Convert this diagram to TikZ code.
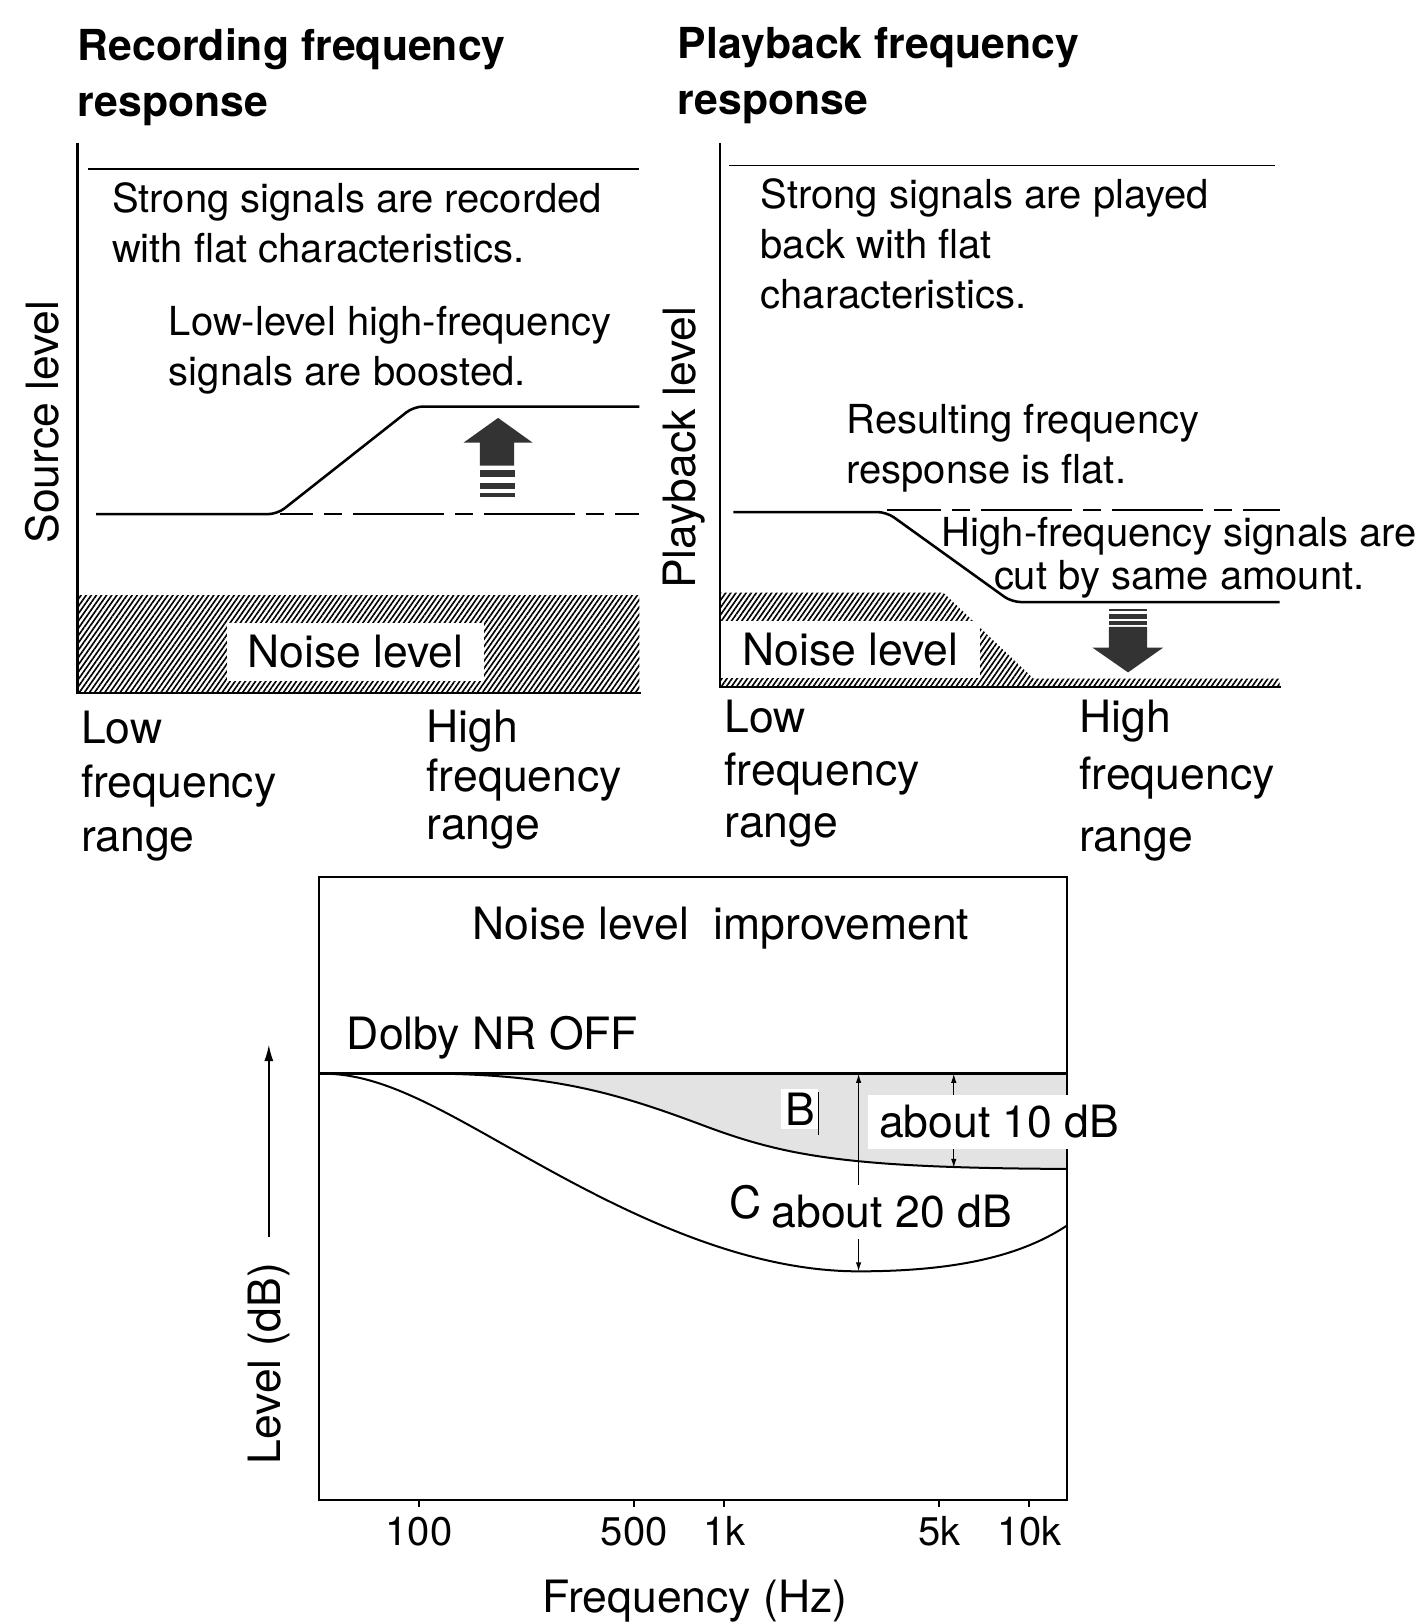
\documentclass[tikz,border=0pt]{standalone}
\usepackage{fontspec}
\setmainfont{TeX Gyre Heros}
\usepackage{tikz}
\usetikzlibrary{arrows.meta}
\usetikzlibrary{patterns.meta}

\begin{document}
\begin{tikzpicture}[
      x=0.02cm, y=-0.02cm,
      heading/.style ={font=\fontsize{23.5}{31}\bfseries\selectfont, align=left, anchor=base west, inner sep=0pt},
      note/.style    ={font=\fontsize{22}{27.5}\selectfont, align=left, anchor=base west, inner sep=0pt},
      rangelabel/.style={font=\fontsize{24.5}{29.8}\selectfont, align=left, anchor=base west, inner sep=0pt},
      axlabel/.style ={font=\fontsize{24.5}{28}\selectfont, rotate=90, anchor=base, inner sep=0pt},
      plottext/.style={font=\fontsize{24.5}{28}\selectfont, inner sep=0pt},
      axisline/.style={line width=1.2pt},
      respline/.style={line width=1.4pt, rounded corners=5pt},
      refline/.style ={line width=1pt, dash pattern=on 50pt off 6pt on 10pt off 6pt},
      hatch/.style   ={pattern={Lines[angle=55, distance=2.3pt, line width=0.9pt]}},
      noisebox/.style={fill=white, inner sep=0pt, font=\fontsize{24.5}{28}\selectfont},
      bigarrow/.style={fill=black!80},
      dimline/.style ={line width=0.6pt, >={Latex[length=5pt,width=3pt]}, <->}
    ]
    \useasboundingbox (0,0) rectangle (1371,1568);

    % recording
    \node [heading] (rectitle) at (75,113) {Recording frequency\\response};
    \fill [hatch] (75,576) rectangle (618,670);
    \node [noisebox, minimum width=4.98cm, minimum height=1.12cm] (recnoise) at (343.5,630) {Noise level};
    \draw [axisline] (75,138) -- (75,670) -- (620,670);
    \draw [line width=1pt] (85,163) -- (618,163);
    \node [note] (recstrong) at (108,254) {Strong signals are recorded\\with flat characteristics.};
    \node [note] (recboost) at (163,373) {Low-level high-frequency\\signals are boosted.};
    \draw [refline, dash phase=32pt] (271,497) -- (618,497);
    \draw [respline] (93,497) -- (268,497) -- (400,393) -- (618,393);
    \fill [bigarrow] (481.5,404) -- (515,428) -- (497,428) -- (497,450) -- (464,450) -- (464,428) -- (448,428) -- cycle;
    \foreach \ya/\yb in {454.5/461, 467/473, 477/480.5}
      \fill [bigarrow] (464,\ya) rectangle (498,\yb);
    \node [axlabel] (srclevel) at (57,408) {Source level};
    \node [rangelabel] (reclow) at (78,823) {Low\\frequency\\range};
    \node [rangelabel] (rechigh) at (412,812) {High\\[-3pt]frequency\\[-3pt]range};

    % playback
    \node [heading] (pbtitle) at (655,111) {Playback frequency\\response};
    \fill [hatch] (696,573) -- (912,573) -- (999,656) -- (1237,656) -- (1237,664) -- (696,664) -- cycle;
    \node [noisebox, minimum width=5cm, minimum height=1.1cm] (pbnoise) at (822,628) {Noise level};
    \draw [axisline] (696,138) -- (696,664) -- (1238,664);
    \draw [line width=1pt] (705,160) -- (1233,160);
    \node [note] (pbstrong) at (735,298) {Strong signals are played\\back with flat\\characteristics.};
    \node [note] (pbflat) at (818,467) {Resulting frequency\\response is flat.};
    \node [note, align=center, anchor=base] (pbcut) at (1140,570) {High-frequency signals are\\[-4pt]cut by same amount.};
    \draw [refline, dash phase=20pt] (857,493) -- (1237,493);
    \draw [respline] (709,495) -- (857,495) -- (978,582) -- (1237,582);
    \foreach \ya/\yb in {589/591, 594/598, 600.5/604}
      \fill [bigarrow] (1072,\ya) rectangle (1109,\yb);
    \fill [bigarrow] (1090.5,650) -- (1124.5,626) -- (1109,626) -- (1109,606) -- (1072,606) -- (1072,626) -- (1056,626) -- cycle;
    \node [axlabel] (pblevel) at (672,433) {Playback level};
    \node [rangelabel] (pblow) at (700,810) {Low\\[-0.8pt]frequency\\[-0.8pt]range};
    \node [rangelabel] (pbhigh) at (1043,823) {High\\[1.5pt]frequency\\[4.3pt]range};

    % improvement graph
    \fill [black!11] (430,1038) .. controls (540,1040) and (600,1058) .. (680,1088)
          .. controls (760,1118) and (820,1129) .. (1031,1130) -- (1031,1038) -- cycle;
    \draw [line width=1.1pt] (308,1038) -- (430,1038) .. controls (540,1040) and (600,1058) .. (680,1088)
          .. controls (760,1118) and (820,1129) .. (1031,1130);
    \draw [line width=1.1pt] (308,1038) .. controls (370,1036) and (430,1075) .. (520,1125)
          .. controls (610,1175) and (720,1229) .. (830,1229)
          .. controls (930,1229) and (990,1212) .. (1031,1185);
    \draw [line width=1.5pt] (308,1038) -- (1031,1038);
    \coordinate (ctop) at (830,1038);
    \coordinate (cbot) at (830,1229);
    \coordinate (btop) at (922,1038);
    \coordinate (bbot) at (922,1129);
    \draw [dimline] (ctop) -- (cbot);
    \draw [dimline] (btop) -- (bbot);
    \draw [line width=1.1pt] (308,848) rectangle (1031,1450);
    \foreach \x/\lab in {405/100, 613/500, 700/1k, 908/5k, 995/10k} {
      \draw [line width=1pt] (\x,1450) -- (\x,1457);
      \node [plottext, font=\fontsize{22}{26}\selectfont, anchor=base] (f\lab) at (\x,1494) {\lab};
    }
    \node [plottext, anchor=base] (imptitle) at (697,908) {Noise level\ \ improvement};
    \node [plottext, anchor=base west] (nroff) at (335,1015) {Dolby NR OFF};
    \node [plottext, anchor=base west, fill=white, inner sep=2pt] (lblb) at (755,1088) {B};
    \draw [line width=0.8pt] (791,1056) -- (791,1097);
    \node [plottext, anchor=base west] (lblc) at (705,1178) {C};
    \node [plottext, anchor=base, fill=white, inner sep=6pt] (tendb) at (966,1100) {about 10 dB};
    \node [plottext, anchor=base, fill=white, inner sep=6pt] (twentydb) at (862,1187) {about 20 dB};
    \node [plottext, anchor=base] (freq) at (672,1559) {Frequency (Hz)};
    \node [axlabel] (lvl) at (271,1318) {Level (dB)};
    \coordinate (lvltip) at (256,1010);
    \draw [line width=0.8pt, shorten <=14pt, -{Latex[length=9pt,width=5pt]}] (lvl.east) -- (lvl.east |- lvltip);
  \end{tikzpicture}
\end{document}
